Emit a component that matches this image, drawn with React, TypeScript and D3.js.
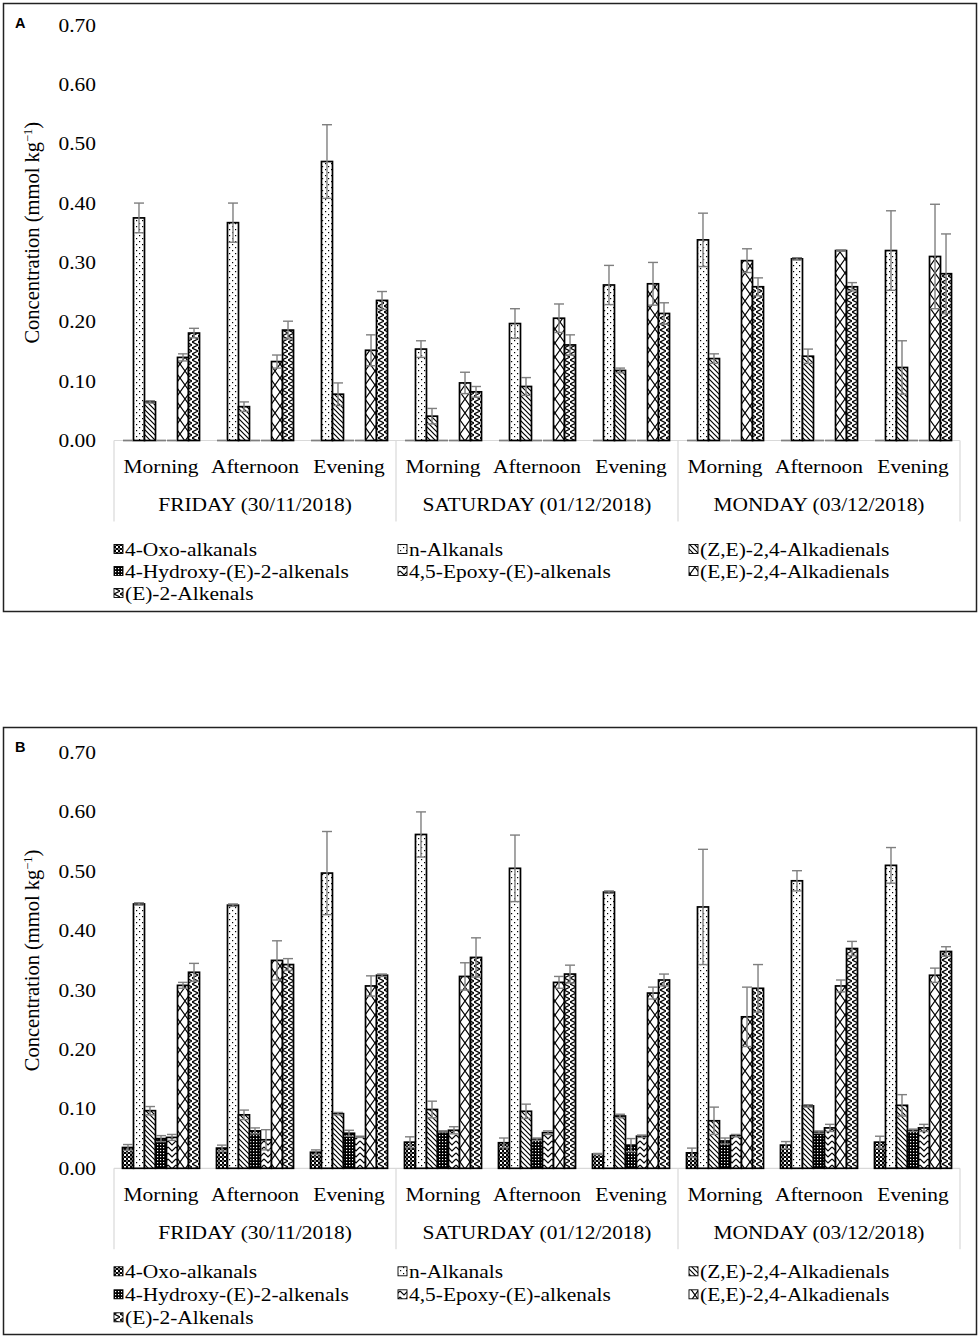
import React from "react";
import * as d3 from "d3";

const days = ["FRIDAY (30/11/2018)", "SATURDAY (01/12/2018)", "MONDAY (03/12/2018)"];
const times = ["Morning", "Afternoon", "Evening"];
const seriesNames = [
  "4-Oxo-alkanals",
  "n-Alkanals",
  "(Z,E)-2,4-Alkadienals",
  "4-Hydroxy-(E)-2-alkenals",
  "4,5-Epoxy-(E)-alkenals",
  "(E,E)-2,4-Alkadienals",
  "(E)-2-Alkenals",
];
const yTicks = [0, 0.1, 0.2, 0.3, 0.4, 0.5, 0.6, 0.7];

// Panel A values (order: Fri M/A/E, Sat M/A/E, Mon M/A/E)
const oxoA = [0, 0, 0, 0, 0, 0, 0, 0, 0];
const nAlkA = [0.375, 0.367, 0.470, 0.154, 0.197, 0.262, 0.338, 0.306, 0.320];
const zeA = [0.065, 0.057, 0.078, 0.041, 0.091, 0.118, 0.138, 0.142, 0.123];
const hydA = [0, 0, 0, 0, 0, 0, 0, 0, 0];
const epoA = [0, 0, 0, 0, 0, 0, 0, 0, 0];
const eeA = [0.140, 0.133, 0.152, 0.097, 0.206, 0.264, 0.303, 0.320, 0.310];
const e2A = [0.181, 0.186, 0.236, 0.082, 0.161, 0.214, 0.259, 0.259, 0.281];

const oxoAErr = [0, 0, 0, 0, 0, 0, 0, 0, 0];
const nAlkAErr = [0.025, 0.033, 0.062, 0.014, 0.025, 0.033, 0.045, 0.002, 0.067];
const zeAErr = [0.002, 0.008, 0.019, 0.013, 0.015, 0.004, 0.008, 0.012, 0.045];
const hydAErr = [0, 0, 0, 0, 0, 0, 0, 0, 0];
const epoAErr = [0, 0, 0, 0, 0, 0, 0, 0, 0];
const eeAErr = [0.006, 0.011, 0.026, 0.018, 0.024, 0.036, 0.020, 0.001, 0.088];
const e2AErr = [0.008, 0.015, 0.015, 0.009, 0.017, 0.018, 0.015, 0.007, 0.067];

// Panel B values
const oxoB = [0.035, 0.034, 0.027, 0.044, 0.043, 0.024, 0.026, 0.039, 0.044];
const nAlkB = [0.445, 0.443, 0.497, 0.562, 0.505, 0.465, 0.440, 0.484, 0.510];
const zeB = [0.097, 0.090, 0.092, 0.099, 0.096, 0.088, 0.080, 0.105, 0.106];
const hydB = [0.050, 0.063, 0.059, 0.062, 0.049, 0.039, 0.046, 0.061, 0.064];
const epoB = [0.052, 0.048, 0.053, 0.064, 0.060, 0.054, 0.055, 0.068, 0.068];
const eeB = [0.308, 0.350, 0.307, 0.323, 0.313, 0.295, 0.255, 0.307, 0.325];
const e2B = [0.330, 0.343, 0.325, 0.355, 0.327, 0.317, 0.303, 0.370, 0.365];

const oxoBErr = [0.005, 0.005, 0.004, 0.009, 0.008, 0.001, 0.008, 0.006, 0.010];
const nAlkBErr = [0.002, 0.002, 0.070, 0.038, 0.056, 0.002, 0.097, 0.017, 0.030];
const zeBErr = [0.007, 0.008, 0.002, 0.014, 0.012, 0.003, 0.023, 0.002, 0.018];
const hydBErr = [0.005, 0.005, 0.005, 0.001, 0.002, 0.011, 0.005, 0.002, 0.002];
const epoBErr = [0.005, 0.017, 0.001, 0.006, 0.003, 0.002, 0.002, 0.006, 0.006];
const eeBErr = [0.005, 0.033, 0.017, 0.023, 0.010, 0.010, 0.050, 0.010, 0.012];
const e2BErr = [0.015, 0.010, 0.002, 0.033, 0.015, 0.010, 0.040, 0.012, 0.008];

const valuesA = [oxoA, nAlkA, zeA, hydA, epoA, eeA, e2A];
const errorsA = [oxoAErr, nAlkAErr, zeAErr, hydAErr, epoAErr, eeAErr, e2AErr];
const valuesB = [oxoB, nAlkB, zeB, hydB, epoB, eeB, e2B];
const errorsB = [oxoBErr, nAlkBErr, zeBErr, hydBErr, epoBErr, eeBErr, e2BErr];

const FONT = "'Liberation Serif', 'Times New Roman', serif";
const SX = 1.1;

function T({ x, y, children, anchor = "middle", size = 19.5 }: any) {
  return (
    <text
      transform={`translate(${x},${y}) scale(${SX},1)`}
      textAnchor={anchor}
      fontFamily={FONT}
      fontSize={size}
      fill="#000"
    >
      {children}
    </text>
  );
}

function Patterns() {
  return (
    <defs>
      <pattern id="p0" width="4" height="4" patternUnits="userSpaceOnUse">
        <rect width="4" height="4" fill="#fff" />
        <rect x="0" y="0" width="2" height="2" fill="#000" />
        <rect x="2" y="2" width="2" height="2" fill="#000" />
        <rect x="2" y="0" width="2" height="2" fill="#777" />
      </pattern>
      <pattern id="p1" width="6" height="6" patternUnits="userSpaceOnUse">
        <rect width="6" height="6" fill="#fff" />
        <rect x="1" y="1" width="1.2" height="1.2" fill="#000" />
        <rect x="4" y="4" width="1.2" height="1.2" fill="#000" />
      </pattern>
      <pattern id="p2" width="5" height="5" patternUnits="userSpaceOnUse">
        <rect width="5" height="5" fill="#fff" />
        <path d="M0,0 L5,5 M-1,4 L1,6 M4,-1 L6,1" stroke="#000" strokeWidth="1.2" />
      </pattern>
      <pattern id="p3" width="3" height="3" patternUnits="userSpaceOnUse">
        <rect width="3" height="3" fill="#000" />
        <rect x="1" y="1" width="1.2" height="1.2" fill="#fff" />
      </pattern>
      <pattern id="p4" width="8" height="6" patternUnits="userSpaceOnUse">
        <rect width="8" height="6" fill="#fff" />
        <path d="M0,1 L4,5 L8,1" stroke="#000" strokeWidth="1.2" fill="none" />
      </pattern>
      <pattern id="p5" width="10" height="14" patternUnits="userSpaceOnUse">
        <rect width="10" height="14" fill="#fff" />
        <path d="M0,0 L10,14 M10,0 L0,14" stroke="#000" strokeWidth="1.2" fill="none" />
      </pattern>
      <pattern id="p6" width="6" height="6" patternUnits="userSpaceOnUse">
        <rect width="6" height="6" fill="#fff" />
        <path d="M0,0 L6,3 L0,6" stroke="#000" strokeWidth="1.2" fill="none" />
      </pattern>
    </defs>
  );
}

const subKeys = days.flatMap((d) => times.map((t) => `${d}|${t}`));

function Panel({ label, frameY, frameH, y0, yTop, values, errors, off }: any) {
  const x0 = d3.scaleBand<string>().domain(subKeys).range([114, 960]);
  const x1 = d3
    .scaleBand<string>()
    .domain(seriesNames)
    .range([0, x0.bandwidth()])
    .paddingInner(0)
    .paddingOuter(0.77);
  const y = d3.scaleLinear().domain([0, 0.7]).range([y0, yTop]);
  const fmt = d3.format(".2f");
  const bw = x1.bandwidth();
  const groupW = x0.bandwidth() * 3;
  const legendCols = [114, 398, 689];

  return (
    <g>
      <rect x={3.5} y={frameY} width={973} height={frameH} fill="none" stroke="#222" strokeWidth={1.5} />
      <text x={15} y={frameY + 24.5} fontFamily="'Liberation Sans', Arial, sans-serif" fontWeight="bold" fontSize={14.5}>
        {label}
      </text>
      {yTicks.map((t) => (
        <T key={t} x={96} y={y(t) + 6.5} anchor="end">
          {fmt(t)}
        </T>
      ))}
      <text
        transform={`translate(39,${(y0 + yTop) / 2}) rotate(-90)`}
        textAnchor="middle"
        fontFamily={FONT}
        fontSize={20.5}
      >
        Concentration (mmol kg
        <tspan dy={-7} fontSize={12.5}>−1</tspan>
        <tspan dy={7}>)</tspan>
      </text>
      {/* category axis */}
      <line x1={114} x2={960} y1={y0} y2={y0} stroke="#d9d9d9" strokeWidth={1.2} />
      {[0, 1, 2, 3].map((i) => (
        <line
          key={i}
          x1={114 + i * groupW}
          x2={114 + i * groupW}
          y1={y0}
          y2={y0 + off.vline}
          stroke="#d9d9d9"
          strokeWidth={1.2}
        />
      ))}
      {subKeys.map((k) => (
        <T key={k} x={(x0(k) as number) + x0.bandwidth() / 2} y={y0 + off.time}>
          {k.split("|")[1]}
        </T>
      ))}
      {days.map((d, i) => (
        <T key={d} x={114 + groupW * (i + 0.5)} y={y0 + off.day}>
          {d}
        </T>
      ))}
      {/* bars */}
      {seriesNames.map((s, si) => (
        <g key={s}>
          {subKeys.map((k, i) => {
            const v = values[si][i];
            if (v <= 0) return null;
            return (
              <rect
                key={k}
                x={(x0(k) as number) + (x1(s) as number)}
                y={y(v)}
                width={bw}
                height={y0 - y(v)}
                fill={`url(#p${si})`}
                stroke="#000"
                strokeWidth={1.7}
              />
            );
          })}
        </g>
      ))}
      {/* error bars */}
      {seriesNames.map((s, si) => (
        <g key={s} stroke="#7f7f7f" strokeWidth={1.4}>
          {subKeys.map((k, i) => {
            const v = values[si][i];
            const e = errors[si][i];
            const cx = (x0(k) as number) + (x1(s) as number) + bw / 2;
            const hi = y(v + e);
            const lo = y(Math.max(0, v - e));
            return (
              <g key={k}>
                <line x1={cx} x2={cx} y1={hi} y2={lo} />
                <line x1={cx - 5} x2={cx + 5} y1={hi} y2={hi} />
                <line x1={cx - 5} x2={cx + 5} y1={lo} y2={lo} />
              </g>
            );
          })}
        </g>
      ))}
      {/* legend */}
      {seriesNames.map((s, si) => {
        const row = Math.floor(si / 3);
        const col = si % 3;
        const cy = y0 + off.legend + row * off.legendStep;
        const lx = legendCols[col];
        return (
          <g key={s}>
            <rect x={lx} y={cy - 4.5} width={9} height={9} fill={`url(#p${si})`} stroke="#000" strokeWidth={0.9} />
            <T x={lx + 11} y={cy + 6.5} anchor="start">
              {s}
            </T>
          </g>
        );
      })}
    </g>
  );
}

export default function App() {
  return (
    <svg
      width={980}
      height={1339}
      viewBox="0 0 980 1339"
      style={{ position: "absolute", left: 0, top: 0, background: "#fff" }}
    >
      <rect width={980} height={1339} fill="#fff" />
      <Patterns />
      <Panel
        label="A"
        frameY={3.5}
        frameH={608}
        y0={440.5}
        yTop={25}
        values={valuesA}
        errors={errorsA}
        off={{ time: 32, day: 70, vline: 81, legend: 108.5, legendStep: 22 }}
      />
      <Panel
        label="B"
        frameY={727.5}
        frameH={607}
        y0={1168.3}
        yTop={752.5}
        values={valuesB}
        errors={errorsB}
        off={{ time: 33, day: 71, vline: 81, legend: 103, legendStep: 23 }}
      />
    </svg>
  );
}
